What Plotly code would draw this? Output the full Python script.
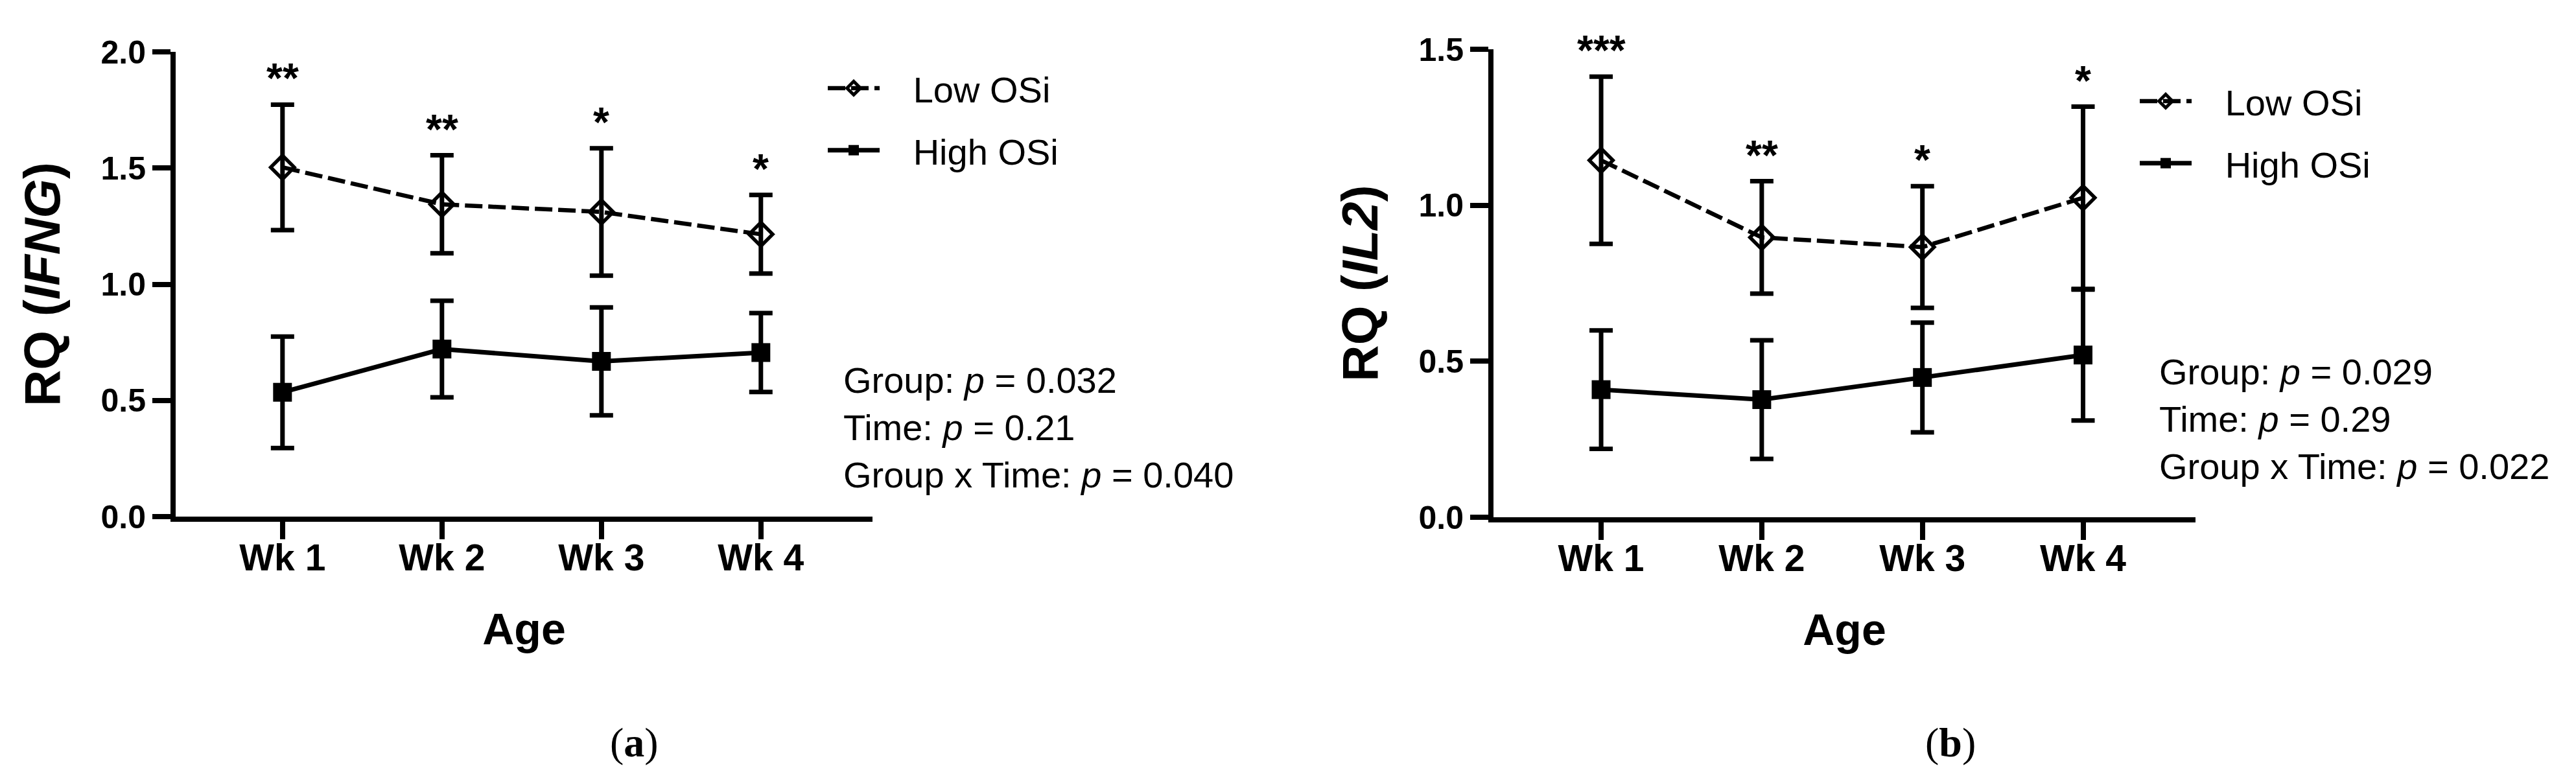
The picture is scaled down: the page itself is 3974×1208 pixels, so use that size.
import plotly.graph_objects as go

weeks = ["Wk 1", "Wk 2", "Wk 3", "Wk 4"]

# (a) RQ IFNG, mean and SEM
ifng_low = [1.503, 1.344, 1.311, 1.215]
ifng_low_sem = [0.270, 0.211, 0.274, 0.169]
ifng_high = [0.535, 0.721, 0.668, 0.706]
ifng_high_sem = [0.240, 0.208, 0.232, 0.170]
ifng_stars = ["**", "**", "*", "*"]
ifng_stats = ["Group: <i>p</i> = 0.032", "Time: <i>p</i> = 0.21", "Group x Time: <i>p</i> = 0.040"]

# (b) RQ IL2, mean and SEM
il2_low = [1.144, 0.897, 0.866, 1.024]
il2_low_sem = [0.268, 0.180, 0.195, 0.292]
il2_high = [0.409, 0.377, 0.448, 0.520]
il2_high_sem = [0.190, 0.190, 0.176, 0.210]
il2_stars = ["***", "**", "*", "*"]
il2_stats = ["Group: <i>p</i> = 0.029", "Time: <i>p</i> = 0.29", "Group x Time: <i>p</i> = 0.022"]

SANS = "Liberation Sans, Arial, sans-serif"
W, H = 3974, 1208
PAD = "\u00a0\u00a0\u00a0"  # gap between legend symbol and label

fig = go.Figure()


def add_panel(low, low_sem, high, high_sem, xa, ya, legend):
    err = dict(type="data", visible=True, thickness=7, width=18, color="black")
    fig.add_trace(go.Scatter(
        x=weeks, y=low, name=PAD + "Low OSi", mode="lines+markers",
        xaxis=xa, yaxis=ya, legend=legend, legendgroup=legend + "low",
        line=dict(color="black", width=6.5, dash="27px,9px"),
        marker=dict(symbol="diamond-open", size=28, color="black",
                    line=dict(width=5.5, color="black")),
        error_y=dict(array=low_sem, **err)))
    fig.add_trace(go.Scatter(
        x=weeks, y=high, name=PAD + "High OSi", mode="lines+markers",
        xaxis=xa, yaxis=ya, legend=legend, legendgroup=legend + "high",
        line=dict(color="black", width=7),
        marker=dict(symbol="square", size=29, color="black"),
        error_y=dict(array=high_sem, **err)))


add_panel(ifng_low, ifng_low_sem, ifng_high, ifng_high_sem, "x", "y", "legend")
add_panel(il2_low, il2_low_sem, il2_high, il2_high_sem, "x2", "y2", "legend2")

# significance stars above the Low OSi error bars
for xref, yref, low, sem, stars in [("x", "y", ifng_low, ifng_low_sem, ifng_stars),
                                     ("x2", "y2", il2_low, il2_low_sem, il2_stars)]:
    for wk, m, s, st in zip(weeks, low, sem, stars):
        fig.add_annotation(x=wk, y=m + s, xref=xref, yref=yref, text=st,
                           showarrow=False, yanchor="middle", yshift=40,
                           font=dict(family=SANS, size=64, color="black", weight="bold"))

# stats text
fig.add_annotation(x=1291 / W, y=1 - 545 / H, xref="paper", yref="paper",
                   text="<br>".join(ifng_stats), showarrow=False, align="left",
                   xanchor="left", yanchor="top",
                   font=dict(family=SANS, size=56, color="black"))
fig.add_annotation(x=3321 / W, y=1 - 532 / H, xref="paper", yref="paper",
                   text="<br>".join(il2_stats), showarrow=False, align="left",
                   xanchor="left", yanchor="top",
                   font=dict(family=SANS, size=56, color="black"))

# panel labels
for lab, px in [("a", 970), ("b", 3001)]:
    fig.add_annotation(x=px / W, y=1 - 1137 / H, xref="paper", yref="paper",
                       text="(<b>%s</b>)" % lab, showarrow=False,
                       xanchor="center", yanchor="middle",
                       font=dict(family="Liberation Serif, Times New Roman, serif",
                                 size=64, color="black"))

xcommon = dict(showline=True, linewidth=8, linecolor="black", ticks="outside",
               ticklen=27, tickwidth=8, tickcolor="black", showgrid=False,
               zeroline=False, range=[-0.67, 3.70], automargin=False,
               ticklabelstandoff=-20,
               tickfont=dict(family=SANS, size=57, color="black", weight="bold"),
               title=dict(text="Age", standoff=58,
                          font=dict(family=SANS, size=68, color="black", weight="bold")))
ycommon = dict(showline=True, linewidth=8, linecolor="black", ticks="outside",
               ticklen=28, tickwidth=8, tickcolor="black", showgrid=False,
               zeroline=False, dtick=0.5, tickformat=".1f", automargin=False,
               tickfont=dict(family=SANS, size=50, color="black", weight="bold"))

fig.update_layout(
    width=W, height=H,
    margin=dict(l=0, r=0, t=0, b=0),
    paper_bgcolor="white", plot_bgcolor="white",
    xaxis=dict(domain=[263 / W, 1338 / W], anchor="y", **xcommon),
    yaxis=dict(domain=[1 - 789 / H, 1 - 72 / H], anchor="x", range=[0, 2.0],
               title=dict(text="RQ (<i>IFNG</i>)", standoff=40,
                          font=dict(family=SANS, size=78, color="black", weight="bold")),
               **ycommon),
    xaxis2=dict(domain=[2296 / W, 3379 / W], anchor="y2", **xcommon),
    yaxis2=dict(domain=[1 - 790 / H, 1 - 68 / H], anchor="x2", range=[0, 1.5],
                title=dict(text="RQ (<i>IL2</i>)", standoff=40,
                           font=dict(family=SANS, size=78, color="black", weight="bold")),
                **ycommon),
    legend=dict(x=1264 / W, y=1 - 85 / H, xanchor="left", yanchor="top",
                font=dict(family=SANS, size=56, color="black"),
                tracegroupgap=20, itemwidth=80, bgcolor="rgba(0,0,0,0)"),
    legend2=dict(x=3288 / W, y=1 - 105 / H, xanchor="left", yanchor="top",
                 font=dict(family=SANS, size=56, color="black"),
                 tracegroupgap=20, itemwidth=80, bgcolor="rgba(0,0,0,0)"),
)

fig.write_html("out.html")
